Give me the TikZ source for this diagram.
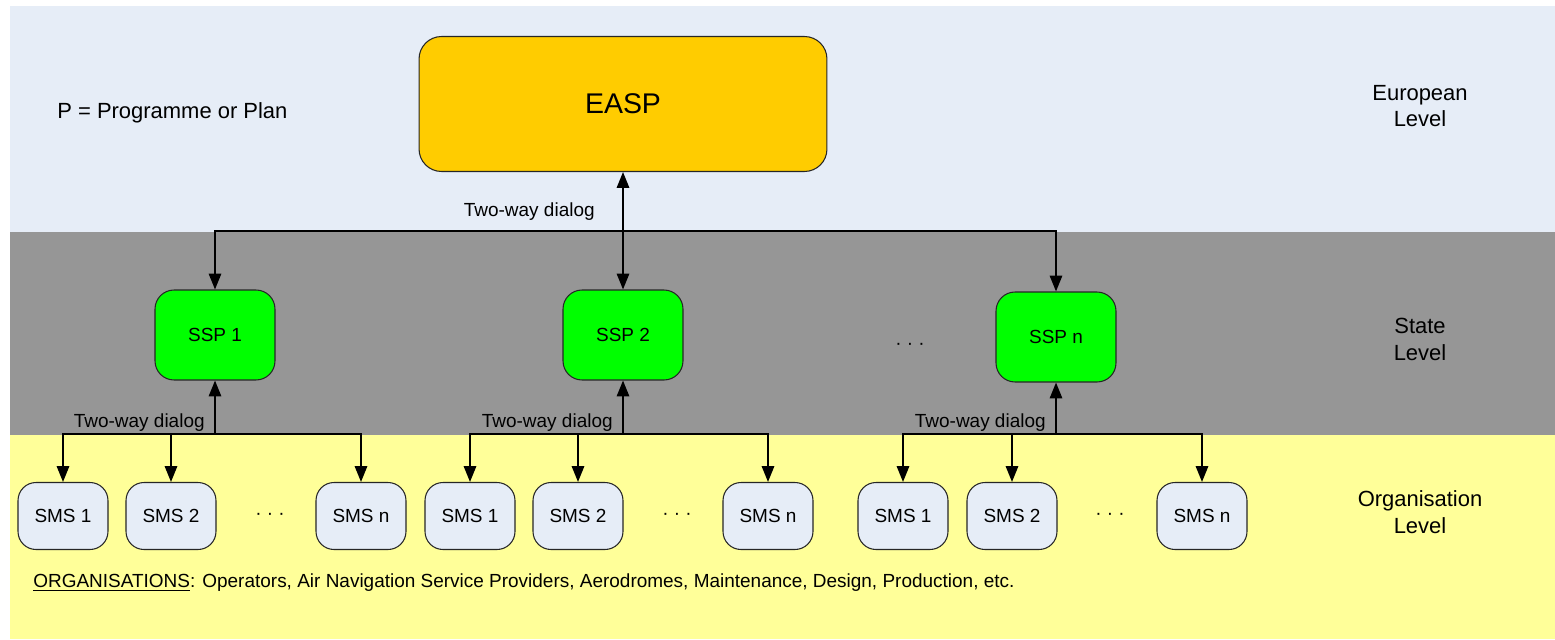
\documentclass[tikz,border=0pt]{standalone}
\usepackage{fontspec}
\setmainfont{Liberation Sans}
\usetikzlibrary{arrows.meta}
\definecolor{EuroBand}{RGB}{230,237,247}
\definecolor{StateBand}{RGB}{150,150,150}
\definecolor{OrgBand}{RGB}{255,255,153}
\definecolor{EaspFill}{RGB}{255,204,0}
\definecolor{SspFill}{RGB}{0,255,0}
\newcommand{\SMSgroup}[6]{% prefix ssp x1 x2 xn xdots
\node[sms] (#1s1) at (#3,516) {SMS 1};
\node[sms] (#1s2) at (#4,516) {SMS 2};
\node[sms] (#1sn) at (#5,516) {SMS n};
\node[txt] (#1dots) at (#6,516) {· · ·};
\coordinate (#1hub) at (#2.south |- 0,434);
\draw[link,->] (#1hub) -- (#2.south);
\draw[link,->] (#1hub) -| (#1s1.north);
\draw[link,->] (#1hub) -| (#1s2.north);
\draw[link,->] (#1hub) -| (#1sn.north);
\path (#1hub) ++(-10,-7) node[txt,anchor=base east] (#1lbl) {Two-way dialog};
}

\begin{document}
\begin{tikzpicture}[x=0.02cm,y=-0.02cm,
  >={Triangle[length=9pt,width=7pt]},
  txt/.style={inner sep=0pt,font=\fontsize{10.8}{13}\selectfont},
  lvl/.style={inner sep=0pt,align=center,font=\fontsize{12.5}{15.3}\selectfont},
  link/.style={line width=1.1pt},
  box/.style={draw=black!85,line width=0.6pt,inner sep=0pt},
  easpbox/.style={box,fill=EaspFill,rounded corners=0.45cm,minimum width=8.16cm,minimum height=2.7cm,font=\fontsize{16.2}{19}\selectfont},
  ssp/.style={box,fill=SspFill,rounded corners=0.38cm,minimum width=2.4cm,minimum height=1.8cm,font=\fontsize{10.8}{13}\selectfont},
  sms/.style={box,fill=EuroBand,rounded corners=0.36cm,minimum width=1.8cm,minimum height=1.34cm,font=\fontsize{10.8}{13}\selectfont}]
\useasboundingbox (0,0) rectangle (1555,639);
% level bands
\fill[EuroBand] (10,6) rectangle (1555,232);
\fill[StateBand] (10,232) rectangle (1555,435);
\fill[OrgBand] (10,435) rectangle (1555,639);
\node[lvl] (euro) at (1420,106) {European\\Level};
\node[lvl] (state) at (1420,339) {State\\Level};
\node[lvl] (org) at (1420,512) {Organisation\\Level};
\node[lvl,anchor=west] (legend) at (57,113) {P = Programme or Plan};
% european and state programmes
\node[easpbox] (easp) at (623,104) {EASP};
\node[ssp] (ssp1) at (215,335) {SSP 1};
\node[ssp] (ssp2) at (623,335) {SSP 2};
\node[ssp] (sspn) at (1056,337) {SSP n};
\node[txt] (sdots) at (910,346) {· · ·};
\coordinate (hub0) at (easp.south |- 0,231);
\draw[link,<->] (easp.south) -- (ssp2.north);
\draw[link,->] (hub0) -| (ssp1.north);
\draw[link,->] (hub0) -| (sspn.north);
\path (hub0) ++(-28,-15) node[txt,anchor=base east] (toplbl) {Two-way dialog};
% organisations
\SMSgroup{a}{ssp1}{63}{171}{361}{270}
\SMSgroup{b}{ssp2}{470}{578}{768}{677}
\SMSgroup{c}{sspn}{903}{1012}{1202}{1110}
\node[txt,anchor=west] (orgs) at (33,583) {\underline{ORGANISATIONS}: Operators, Air Navigation Service Providers, Aerodromes, Maintenance, Design, Production, etc.};
\end{tikzpicture}
\end{document}
